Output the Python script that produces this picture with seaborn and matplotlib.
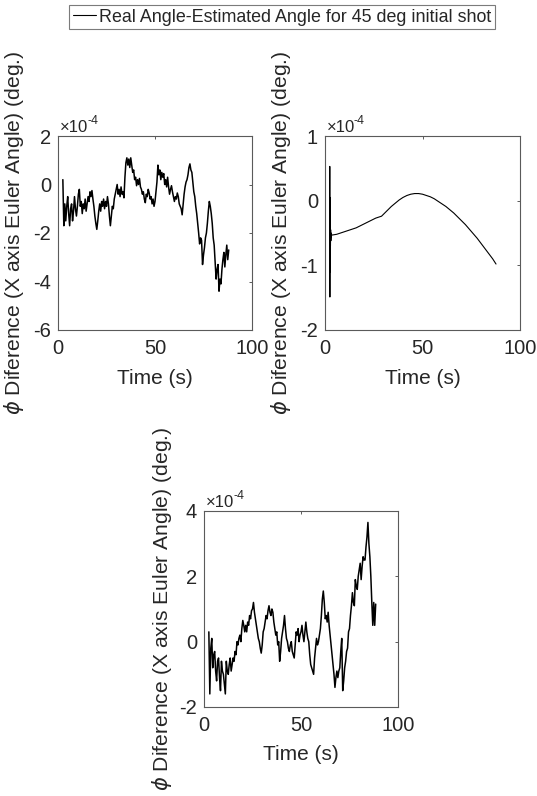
import numpy as np
import matplotlib
matplotlib.use("Agg")
import matplotlib.pyplot as plt
import seaborn as sns

# ---- data (angle differences in units of 1e-4 deg) ----
time_a = np.arange(2.5, 88.01, 0.5)
diff_a = [
    0.2, -1.7, -0.8, -1.5, -0.9, -0.5, -1.2, -1.7, -1.0, -0.8,
    -1.5, -1.1, -0.5, -1.0, -1.3, -0.9, -0.4, -0.2, -0.9, -0.7,
    -1.2, -0.8, -1.0, -0.6, -1.1, -0.8, -0.5, -0.7, -0.3, -0.5,
    -0.25, -0.6, -0.9, -1.3, -1.6, -1.85, -1.5, -1.1, -0.8, -1.1,
    -0.7, -0.9, -0.6, -1.0, -0.7, -0.9, -0.5, -0.8, -1.3, -1.7,
    -1.3, -0.9, -1.0, -0.6, -0.4, -0.2, 0.0, -0.4, -0.2, -0.5,
    -0.1, -0.4, -0.3, -0.55, 0.3, 0.9, 1.1, 0.8, 1.05, 0.7,
    1.1, 0.8, 0.5, 0.6, 0.2, 0.3, -0.05, 0.2, 0.0, 0.25,
    -0.1, -0.2, -0.4, -0.3, -0.6, -0.75, -0.4, -0.5, -0.2, -0.35,
    -0.6, -0.5, -0.8, -0.6, -0.9, -0.7, -0.3, 0.1, 0.8, 0.4,
    0.6, 0.2, 0.5, 0.3, 0.45, 0.0, 0.2, -0.1, 0.3, -0.1,
    -0.4, -0.2, -0.05, -0.3, -0.5, -0.7, -0.5, -0.6, -0.35, -0.5,
    -0.8, -0.9, -1.0, -1.25, -0.8, -0.4, -0.1, 0.1, 0.2, 0.4,
    0.7, 0.85, 0.6, 0.5, 0.1, -0.3, -0.5, -0.9, -1.2, -1.6,
    -2.0, -2.45, -2.2, -2.3, -3.3, -2.9, -2.6, -2.2, -2.0, -1.6,
    -1.1, -0.7, -0.9, -1.2, -1.6, -2.2, -2.5, -3.2, -3.9, -3.5,
    -3.3, -4.4, -3.9, -4.1, -3.5, -3.1, -2.8, -3.4, -2.9, -2.5,
    -3.1, -2.7,
]

time_b = [2.4, 2.45, 2.5, 2.55, 2.6, 2.65, 2.7, 2.75, 2.8, 2.9, 3.0, 3.1,
          3.2, 3.4, 3.7, 4, 6, 8, 10, 12, 14, 16, 18, 20, 22, 24, 26, 28,
          29, 30, 32, 34, 36, 38, 40, 42, 44, 46, 48, 50, 52, 54, 56, 58,
          60, 62, 64, 66, 68, 70, 72, 74, 76, 78, 80, 82, 84, 86, 87.7]
diff_b = [-0.55, 0.53, -1.49, 0.05, -1.1, -0.2, -0.9, -0.35, -0.7, -0.45,
          -0.62, -0.5, -0.56, -0.53, -0.53, -0.53, -0.52, -0.50, -0.48,
          -0.46, -0.44, -0.42, -0.39, -0.36, -0.33, -0.30, -0.27, -0.25,
          -0.24, -0.21, -0.15, -0.09, -0.04, 0.01, 0.05, 0.08, 0.10, 0.11,
          0.11, 0.10, 0.08, 0.06, 0.03, -0.01, -0.05, -0.09, -0.14, -0.19,
          -0.25, -0.31, -0.37, -0.44, -0.51, -0.58, -0.66, -0.74, -0.82,
          -0.90, -0.98]

time_c = np.arange(2.5, 88.51, 0.5)
diff_c = [
    0.3, -1.6, -0.2, 0.1, -0.8, -0.4, -0.3, -0.9, -1.2, -0.6,
    -0.5, -1.1, -1.5, -0.6, -0.9, -1.0, -1.3, -1.6, -0.6, -0.9,
    -1.0, -0.7, -0.5, -0.9, -0.7, -0.5, -0.6, -0.3, -0.4, 0.0,
    -0.1, 0.1, 0.2, 0.0, 0.4, 0.65, 0.5, 0.3, 0.5, 0.3,
    0.6, 0.5, 0.8, 0.7, 0.95, 1.0, 1.2, 0.9, 0.7, 0.5,
    0.3, 0.1, 0.0, -0.2, -0.35, -0.1, 0.3, 0.4, 0.6, 0.8,
    0.7, 0.95, 1.1, 0.9, 0.8, 1.0, 0.9, 0.6, 0.4, 0.2,
    0.3, -0.1, 0.0, -0.6, -0.3, 0.1, 0.3, 0.5, 0.8, 0.4,
    0.1, 0.0, -0.2, -0.3, -0.1, 0.0, -0.3, -0.4, -0.5, -0.1,
    0.3, 0.2, 0.4, 0.0, 0.2, 0.3, 0.5, 0.2, 0.0, 0.3,
    0.6, 0.3, 0.1, 0.0, -0.4, -0.7, -0.8, -0.9, -1.0, -0.5,
    -0.2, 0.1, -0.1, 0.0, 0.2, 0.4, 0.8, 1.3, 1.55, 1.2,
    0.7, 0.8, 0.6, 0.9, 0.5, 0.2, -0.1, -0.4, -0.7, -1.0,
    -1.4, -1.1, -0.9, -1.1, -0.9, -0.8, -0.3, 0.1, -1.5, -1.2,
    -0.8, -0.6, -0.3, -0.2, 0.3, 0.4, 0.8, 1.1, 1.5, 1.2,
    1.1, 1.9, 1.7, 1.6, 2.0, 2.2, 2.4, 1.9, 2.3, 2.6,
    2.5, 2.5, 2.9, 3.2, 3.65, 3.0, 2.6, 2.0, 1.2, 0.5,
    1.2, 0.5, 1.15,
]

x_ticks = [0, 50, 100]
y_ticks_a = [-6, -4, -2, 0, 2]
y_ticks_b = [-2, -1, 0, 1]
y_ticks_c = [-2, 0, 2, 4]

legend_text = "Real Angle-Estimated Angle for 45 deg initial shot"
y_label = r"$\phi$ Diference (X axis Euler Angle) (deg.)"
x_label = "Time (s)"

# ---- style ----
sns.set_theme(style="white")
plt.rcParams["font.family"] = ["Liberation Sans", "DejaVu Sans"]
plt.rcParams["axes.unicode_minus"] = False
plt.rcParams["axes.edgecolor"] = "#5a5a5a"
plt.rcParams["axes.linewidth"] = 0.8

W, H = 537, 796
fig = plt.figure(figsize=(W / 100, H / 100), dpi=100)


def px_axes(left, top, right, bottom):
    return fig.add_axes([left / W, 1 - bottom / H, (right - left) / W, (bottom - top) / H])


panels = [
    (px_axes(58, 136, 252, 330), time_a, diff_a, y_ticks_a, 14, 1.1),
    (px_axes(325, 136, 520, 330), time_b, diff_b, y_ticks_b, 281, 0.8),
    (px_axes(204, 511, 398, 707), time_c, diff_c, y_ticks_c, 162, 1.1),
]

lines = []
for ax, t, v, yt, label_x, lw in panels:
    sns.lineplot(x=t, y=v, ax=ax, color="black", linewidth=lw,
                 estimator=None, sort=False)
    lines.append(ax.get_lines()[0])
    ax.set_xlim(0, 100)
    ax.set_ylim(yt[0], yt[-1])
    ax.set_xticks(x_ticks)
    ax.set_yticks(yt)
    ax.set_xticklabels([str(x) for x in x_ticks])
    ax.set_yticklabels([str(y) for y in yt])
    ax.tick_params(direction="in", length=2.5, width=0.7, colors="#5a5a5a",
                   labelcolor="#262626", labelsize=14.5, top=True, right=True)
    ax.tick_params(axis="x", pad=6.5)
    ax.tick_params(axis="y", pad=5)
    for s in ax.spines.values():
        s.set_visible(True)
    ax.set_xlabel("")
    ax.set_ylabel("")
    # axis titles
    bb = ax.get_position()
    fig.text((bb.x0 + bb.x1) / 2, bb.y0 - 48 / H, x_label, ha="center",
             va="center", fontsize=15, color="#262626")
    fig.text(label_x / W, (bb.y0 + bb.y1) / 2, y_label, rotation=90,
             ha="center", va="center", fontsize=15.2, color="#262626")
    # exponent marker
    ax.annotate("\u00d710", xy=(0, 1), xycoords="axes fraction",
                xytext=(2, 4), textcoords="offset pixels", va="baseline",
                ha="left", fontsize=12, color="#262626")
    ax.annotate("-4", xy=(0, 1), xycoords="axes fraction",
                xytext=(29, 12), textcoords="offset pixels", va="baseline",
                ha="left", fontsize=9, color="#262626")

leg = fig.legend(handles=[lines[1]], labels=[legend_text], loc="upper center",
                 bbox_to_anchor=(282 / W, 1 - 5 / H), frameon=True,
                 fancybox=False, edgecolor="#5a5a5a", borderpad=0.2,
                 handlelength=1.3, handletextpad=0.15, fontsize=12.9,
                 borderaxespad=0)
leg.get_frame().set_linewidth(0.8)

fig.savefig("out.png", dpi=100, facecolor="white")
